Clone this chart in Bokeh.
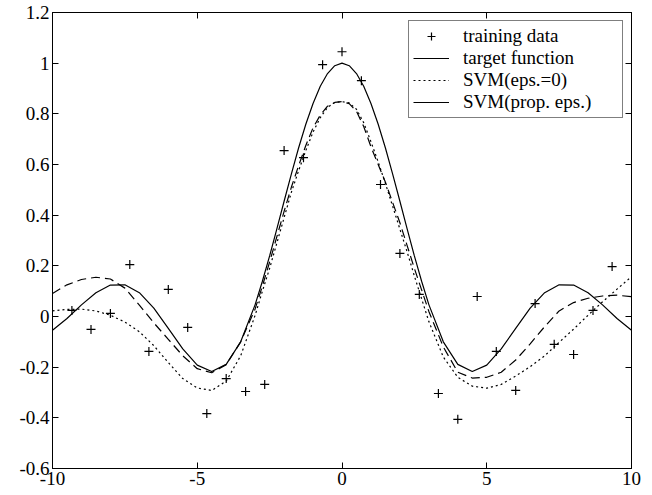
from bokeh.plotting import figure
from bokeh.models import Range1d, FixedTicker, LinearAxis, Legend, LegendItem
from bokeh.embed import file_html
from bokeh.resources import INLINE

# ---- data ----
train_x = [-9.33, -8.67, -8.0, -7.33, -6.67, -6.0, -5.33, -4.67, -4.0, -3.33, -2.67,
           -2.0, -1.33, -0.67, 0.0, 0.67, 1.33, 2.0, 2.67, 3.33, 4.0, 4.67, 5.33,
           6.0, 6.67, 7.33, 8.0, 8.67, 9.33]
train_y = [0.024, -0.051, 0.012, 0.205, -0.138, 0.107, -0.043, -0.383, -0.245, -0.296, -0.268,
           0.655, 0.627, 0.994, 1.045, 0.931, 0.521, 0.249, 0.087, -0.304, -0.406, 0.079, -0.138,
           -0.292, 0.051, -0.110, -0.150, 0.024, 0.197]

curve_x = [-10, -9.5, -9, -8.5, -8, -7.5, -7, -6.5, -6, -5.5, -5, -4.5, -4, -3.5,
           -3, -2.75, -2.5, -2.25, -2, -1.75, -1.5, -1.25, -1, -0.75, -0.5, -0.25, 0,
           0.25, 0.5, 0.75, 1, 1.25, 1.5, 1.75, 2, 2.25, 2.5, 2.75, 3,
           3.5, 4, 4.5, 5, 5.5, 6, 6.5, 7, 7.5, 8, 8.5, 9, 9.5, 10]

target_y = [-0.054, -0.008, 0.046, 0.094, 0.124, 0.125, 0.094, 0.033, -0.047, -0.128, -0.192, -0.217, -0.189, -0.100,
            0.047, 0.139, 0.239, 0.346, 0.455, 0.562, 0.665, 0.759, 0.841, 0.909, 0.959, 0.990, 1.0,
            0.990, 0.959, 0.909, 0.841, 0.759, 0.665, 0.562, 0.455, 0.346, 0.239, 0.139, 0.047,
            -0.100, -0.189, -0.217, -0.192, -0.128, -0.047, 0.033, 0.094, 0.125, 0.124, 0.094, 0.046, -0.008, -0.054]

svm_eps0_y = [0.022, 0.028, 0.029, 0.022, 0.005, -0.022, -0.060, -0.115, -0.182, -0.245, -0.282, -0.292, -0.255, -0.155,
              0.005, 0.100, 0.190, 0.290, 0.390, 0.490, 0.575, 0.655, 0.728, 0.785, 0.825, 0.845, 0.848,
              0.843, 0.818, 0.765, 0.690, 0.610, 0.525, 0.435, 0.345, 0.255, 0.160, 0.070, -0.020,
              -0.160, -0.240, -0.275, -0.283, -0.268, -0.235, -0.198, -0.155, -0.102, -0.050, 0.005, 0.058, 0.108, 0.157]

svm_prop_y = [0.091, 0.125, 0.146, 0.155, 0.148, 0.112, 0.045, -0.025, -0.090, -0.155, -0.206, -0.222, -0.190, -0.100,
              0.030, 0.120, 0.215, 0.315, 0.415, 0.510, 0.595, 0.675, 0.745, 0.795, 0.830, 0.845, 0.848,
              0.840, 0.810, 0.750, 0.670, 0.600, 0.530, 0.450, 0.370, 0.280, 0.190, 0.105, 0.020,
              -0.120, -0.220, -0.243, -0.240, -0.220, -0.172, -0.108, -0.040, 0.022, 0.055, 0.072, 0.081, 0.084, 0.078]

x_ticks = [-10, -5, 0, 5, 10]
x_tick_labels = ["-10", "-5", "0", "5", "10"]
y_ticks = [-0.6, -0.4, -0.2, 0, 0.2, 0.4, 0.6, 0.8, 1, 1.2]
y_tick_labels = ["-0.6", "-0.4", "-0.2", "0", "0.2", "0.4", "0.6", "0.8", "1", "1.2"]

FONT = "'Liberation Serif', 'Times New Roman', serif"
AXIS_FONT = "serif"

p = figure(width=650, height=493, x_range=Range1d(-10, 10), y_range=Range1d(-0.6, 1.2),
           output_backend="svg", toolbar_location=None,
           min_border_left=52, min_border_right=19, min_border_top=12, min_border_bottom=25)
p.grid.visible = False
p.outline_line_color = "black"
p.background_fill_color = "white"
p.border_fill_color = "white"

def style_axis(ax, ticks, labels, show_labels):
    ax.ticker = FixedTicker(ticks=ticks)
    ax.major_tick_in = 6
    ax.major_tick_out = 0
    ax.minor_tick_line_color = None
    ax.axis_line_color = "black"
    ax.major_tick_line_color = "black"
    ax.major_label_text_font = AXIS_FONT
    ax.major_label_text_color = "black"
    if show_labels:
        ax.major_label_overrides = {t: l for t, l in zip(ticks, labels)}
        ax.major_label_text_font_size = "19px"
        ax.major_label_standoff = 3
    else:
        ax.major_label_overrides = {t: "" for t in ticks}
        ax.major_label_text_font_size = "1px"
        ax.major_label_standoff = 0

style_axis(p.xaxis[0], x_ticks, x_tick_labels, True)
style_axis(p.yaxis[0], y_ticks, y_tick_labels, True)
top_ax = LinearAxis()
right_ax = LinearAxis()
style_axis(top_ax, x_ticks, x_tick_labels, False)
style_axis(right_ax, y_ticks, y_tick_labels, False)
p.add_layout(top_ax, "above")
p.add_layout(right_ax, "right")

r_target = p.line(curve_x, target_y, line_color="black", line_width=1.2)
r_eps0 = p.line(curve_x, svm_eps0_y, line_color="black", line_width=1.2, line_dash="2 3")
r_prop = p.line(curve_x, svm_prop_y, line_color="black", line_width=1.2, line_dash="9 5")
r_pts = p.scatter(train_x, train_y, marker="cross", size=9, line_color="black", line_width=1.2)

# in the reference the last legend sample is drawn as a solid line
legend = Legend(items=[
    LegendItem(label="training data", renderers=[r_pts]),
    LegendItem(label="target function", renderers=[r_target]),
    LegendItem(label="SVM(eps.=0)", renderers=[r_eps0]),
    LegendItem(label="SVM(prop. eps.)", renderers=[r_target]),
], location="top_right")
legend.margin = 8
legend.padding = 4
legend.spacing = 0
legend.glyph_width = 36
legend.glyph_height = 20
legend.label_height = 20
legend.label_width = 155
legend.label_standoff = 14
legend.border_line_color = "black"
legend.border_line_width = 1
legend.background_fill_color = "white"
legend.background_fill_alpha = 1
legend.label_text_font = FONT
legend.label_text_font_size = "19px"
legend.label_text_color = "black"
p.add_layout(legend)

open("out.html", "w").write(file_html(p, INLINE))
